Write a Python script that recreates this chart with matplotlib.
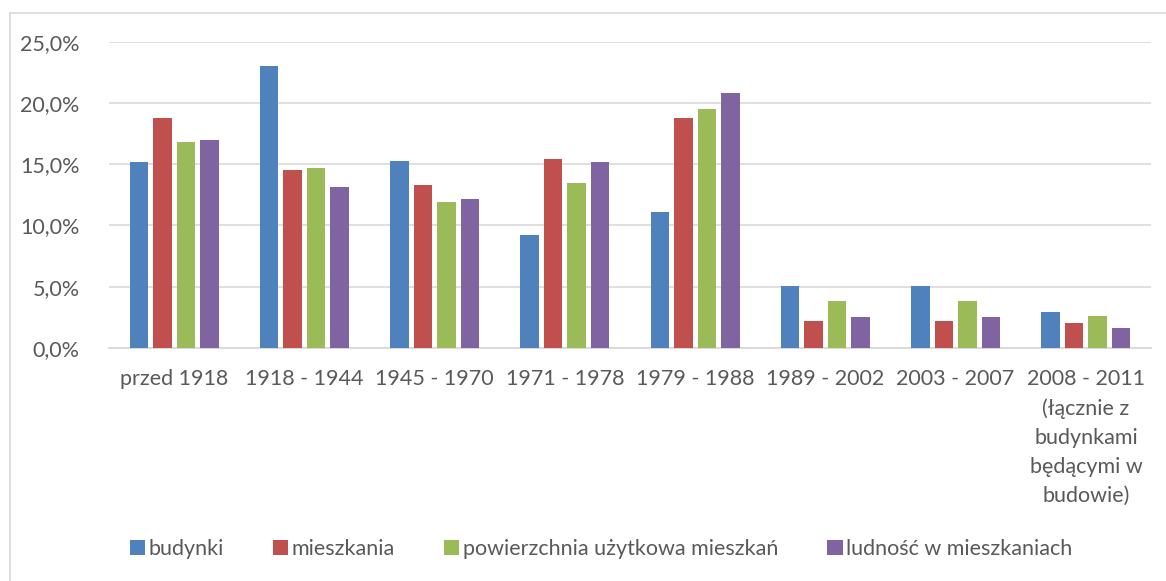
import matplotlib.pyplot as plt
import numpy as np
from matplotlib.ticker import FuncFormatter
from matplotlib.lines import Line2D

plt.rcParams['font.family'] = ['Lato', 'DejaVu Sans']

# categories (building construction periods)
periods = ['przed 1918', '1918 - 1944', '1945 - 1970', '1971 - 1978', '1979 - 1988',
           '1989 - 2002', '2003 - 2007',
           '2008 - 2011\n(łącznie z\nbudynkami\nbędącymi w\nbudowie)']

# share of each period, in %
budynki = [15.2, 23.0, 15.3, 9.2, 11.1, 5.1, 5.1, 2.9]
mieszkania = [18.8, 14.5, 13.3, 15.4, 18.8, 2.2, 2.2, 2.0]
powierzchnia = [16.8, 14.7, 11.9, 13.5, 19.5, 3.8, 3.8, 2.6]
ludnosc = [17.0, 13.1, 12.2, 15.2, 20.8, 2.5, 2.5, 1.6]

series_names = ['budynki', 'mieszkania', 'powierzchnia użytkowa mieszkań', 'ludność w mieszkaniach']
colors = ['#4F81BD', '#C0504D', '#9BBB59', '#8064A2']
text_color = '#595959'
grid_color = '#D9D9D9'

fig = plt.figure(figsize=(11.66, 5.81), dpi=100)
ax = fig.add_axes([109 / 1166, 1 - 348 / 581, (1151 - 109) / 1166, (348 - 41.7) / 581])

x = np.arange(len(periods))
slot = 0.18
for i, (vals, name, col) in enumerate(zip([budynki, mieszkania, powierzchnia, ludnosc], series_names, colors)):
    ax.bar(x + (i - 1.5) * slot, vals, width=0.142, color=col, label=name, zorder=3)

ax.set_xlim(-0.5, len(periods) - 0.5)
ax.set_ylim(0, 25)
ax.set_yticks(np.arange(0, 26, 5))
ax.yaxis.set_major_formatter(FuncFormatter(lambda v, p: f'{v:.1f}%'.replace('.', ',')))
ax.grid(axis='y', color=grid_color, linewidth=1.2, zorder=0)
ax.set_axisbelow(True)

for side in ['top', 'right', 'left']:
    ax.spines[side].set_visible(False)
ax.spines['bottom'].set_color(grid_color)
ax.spines['bottom'].set_linewidth(1.4)

ax.set_xticks(x)
ax.set_xticklabels(periods, linespacing=1.56)
ax.tick_params(axis='both', length=0, labelsize=15.5, colors=text_color)
ax.tick_params(axis='y', pad=21)
ax.tick_params(axis='x', pad=15)

# legend below the chart
leg = fig.legend(loc='center', bbox_to_anchor=(601 / 1166, 1 - 549 / 581), ncol=4,
                 frameon=False, fontsize=15.5, handlelength=0.7, handleheight=0.7,
                 handletextpad=0.15, columnspacing=2.3)
for t in leg.get_texts():
    t.set_color(text_color)

# chart frame (cut off at right and bottom)
fig.add_artist(Line2D([10 / 1166, 1.01], [1 - 12.5 / 581] * 2, color=grid_color, linewidth=1.2))
fig.add_artist(Line2D([10 / 1166] * 2, [1 - 12.5 / 581, -0.01], color=grid_color, linewidth=1.2))

fig.savefig('out.png', dpi=100)
